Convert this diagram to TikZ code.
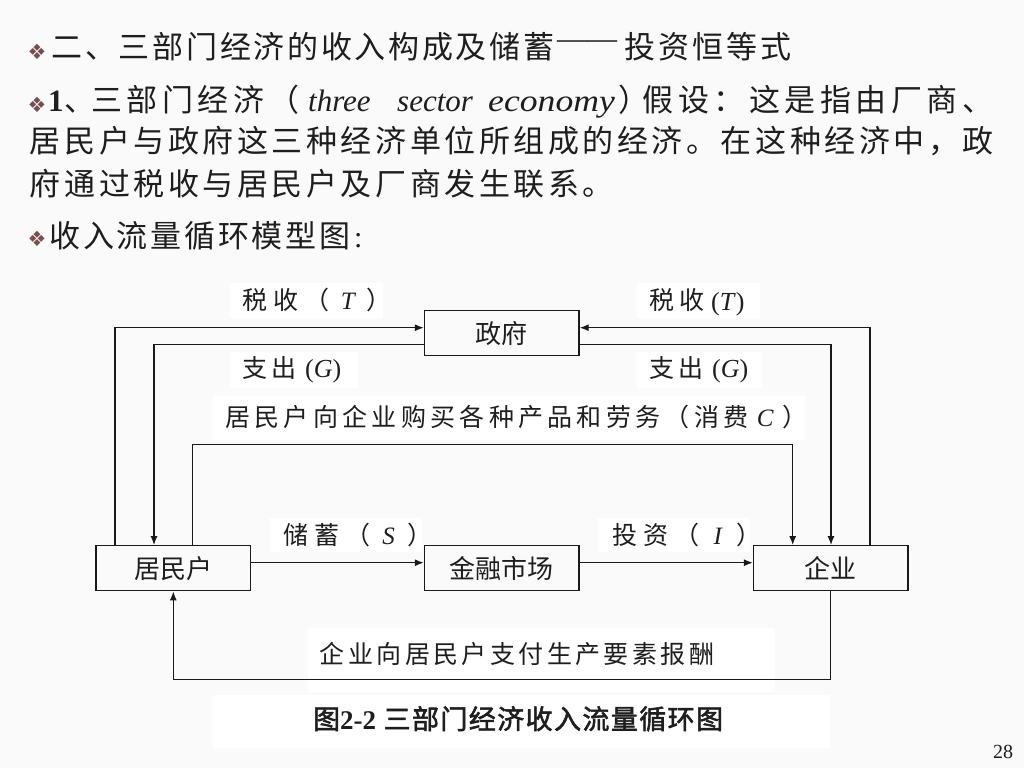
\documentclass[tikz,border=0pt]{standalone}
\usepackage{fontspec}
\setmainfont{Liberation Serif}
\newfontfamily\cjk{Noto Sans CJK SC}
\newfontfamily\cjkbold[FakeBold=2]{Noto Sans CJK SC}
\newfontfamily\dejavu{DejaVu Sans}
\usetikzlibrary{arrows.meta}
\ExplSyntaxOn
\NewDocumentCommand\spr{mm}{\tl_map_inline:nn{#2}{\makebox[#1]{##1}}}
\ExplSyntaxOff
\newcommand\setfs[1]{\fontsize{#1}{#1}\selectfont}
\definecolor{txt}{RGB}{30,30,30}
\definecolor{linec}{RGB}{25,25,25}
\definecolor{bul}{RGB}{120,78,78}
\definecolor{bg}{RGB}{250,250,250}
\begin{document}
\begin{tikzpicture}[x=1pt,y=-1pt,
  every node/.style={inner sep=0pt, text=txt},
  box/.style={draw=linec, line width=1.3pt, minimum width=154.5pt, minimum height=45pt, font=\cjk\setfs{26pt}},
  arr/.style={draw=linec, line width=1.3pt, -{Latex[length=9pt,width=7pt]}},
  lab/.style={anchor=base west, font=\cjk\setfs{25pt}},
  labl/.style={anchor=base west, font=\setfs{26pt}},
  body/.style={anchor=base west, font=\cjk\setfs{31pt}},
  bodyl/.style={anchor=base west, font=\setfs{31pt}},
  bulletmark/.style={font=\dejavu\setfs{21pt}, text=bul},
  patch/.style={fill=white}]
\useasboundingbox (0,0) rectangle (1024,768);
\fill[bg] (0,0) rectangle (1024,768);

% ---- body text ----
\node[bulletmark] (b1) at (37,52) {❖};
\node[body] (l1a) at (50,59) {\spr{33.7pt}{二、三部门经济的收入构成及储蓄}};
\node[anchor=west, font=\setfs{30pt}] (l1b) at (557,45) {——};
\node[body] (l1c) at (623,59) {\spr{34pt}{投资恒等式}};

\node[bulletmark] (b2) at (37,105) {❖};
\node[bodyl, font=\bfseries\setfs{31pt}] (l2a) at (48,111) {1};
\node[body] (l2b) at (64,111) {、};
\node[body] (l2c) at (89,111) {\spr{35.5pt}{三部门经济（}};
\node[bodyl, font=\itshape\setfs{31pt}] (l2d) at (308,111) {three};
\node[bodyl, font=\itshape\setfs{31pt}] (l2e) at (397,111) {sector};
\node[bodyl, font=\itshape\setfs{31pt}] (l2f) at (488,111) {\scalebox{1.15}[1]{economy}};
\node[body] (l2g) at (618,111) {）};
\node[body] (l2h) at (640.5,111) {\spr{35.5pt}{假设：这是指由厂商、}};

\node[body] (l3) at (28,152) {\spr{34.55pt}{居民户与政府这三种经济单位所组成的经济。在这种经济中，政}};
\node[body] (l4) at (28,195) {\spr{34.55pt}{府通过税收与居民户及厂商发生联系。}};

\node[bulletmark] (b5) at (37,239) {❖};
\node[body] (l5a) at (48,247) {\spr{33.7pt}{收入流量循环模型图}};
\node[bodyl, font=\setfs{30pt}] (l5b) at (354,247) {:};

% ---- label patches ----
\fill[patch] (230,283) rectangle (383,318);
\fill[patch] (637,283) rectangle (760,318);
\fill[patch] (230,352) rectangle (358,388);
\fill[patch] (637,352) rectangle (762,388);
\fill[patch] (213,396) rectangle (805,440);
\fill[patch] (270,518) rectangle (422,552);
\fill[patch] (598,518) rectangle (750,552);
\fill[patch] (308,628) rectangle (775,692);
\fill[patch] (213,695) rectangle (830,748);

% ---- boxes ----
\node[box] (gov)  at (501.75,333.3) {政府};
\node[box] (hh)   at (173.25,568.2) {居民户};
\node[box] (fin)  at (501.75,568.3) {金融市场};
\node[box] (firm) at (830.8,568.2)  {企业};

% ---- labels ----
\node[lab] (tl) at (239,309.5) {\spr{31pt}{税收（{\rmfamily\itshape T}）}};
\node[lab] (tr1) at (647,309.5) {\spr{30pt}{税收}};
\node[labl] (tr2) at (711,310) {(\textit{T})};
\node[lab] (gl1) at (240,377.5) {\spr{29pt}{支出}};
\node[labl] (gl2) at (305,377.5) {(\textit{G})};
\node[lab] (gr1) at (647,377.5) {\spr{29pt}{支出}};
\node[labl] (gr2) at (712,377.5) {(\textit{G})};
\node[lab] (cons) at (223,426) {\spr{29.3pt}{居民户向企业购买各种产品和劳务（消费{\rmfamily\itshape C}）}};
\node[lab] (sav) at (280,544.5) {\spr{31pt}{储蓄（{\rmfamily\itshape S}）}};
\node[lab] (inv) at (609,544.5) {\spr{31pt}{投资（{\rmfamily\itshape I}）}};
\node[lab] (fac) at (318,663.5) {\spr{28.4pt}{企业向居民户支付生产要素报酬}};
\node[anchor=base west] (cap) at (313,729) {\setfs{27pt}{\cjkbold 图}{\bfseries 2-2} {\cjkbold\spr{28.4pt}{三部门经济收入流量循环图}}};
\node[font=\setfs{20pt}] (pg) at (1003,752) {28};

% ---- corner coordinates ----
\coordinate (tL) at (115,327.7);
\coordinate (gL) at (154,344.3);
\coordinate (cL) at (192.7,444.3);
\coordinate (cR) at (792.7,444.3);
\coordinate (gR) at (831,344.3);
\coordinate (tR) at (870,327.7);
\coordinate (sy) at (0,562.7);
\coordinate (bL) at (173.3,679.5);
\coordinate (bR) at (830.8,679.5);

% ---- connectors ----
\draw[arr] (hh.north -| tL) -- (tL) -- (gov.west |- tL);
\draw[arr] (gov.west |- gL) -- (gL) -- (hh.north -| gL);
\draw[arr] (hh.north -| cL) -- (cL) -- (cR) -- (firm.north -| cR);
\draw[arr] (gov.east |- gR) -- (gR) -- (firm.north -| gR);
\draw[arr] (firm.north -| tR) -- (tR) -- (gov.east |- tR);
\draw[arr] (hh.east |- sy) -- (fin.west |- sy);
\draw[arr] (fin.east |- sy) -- (firm.west |- sy);
\draw[arr] (firm.south -| bR) -- (bR) -- (bL) -- (hh.south -| bL);
\end{tikzpicture}
\end{document}
